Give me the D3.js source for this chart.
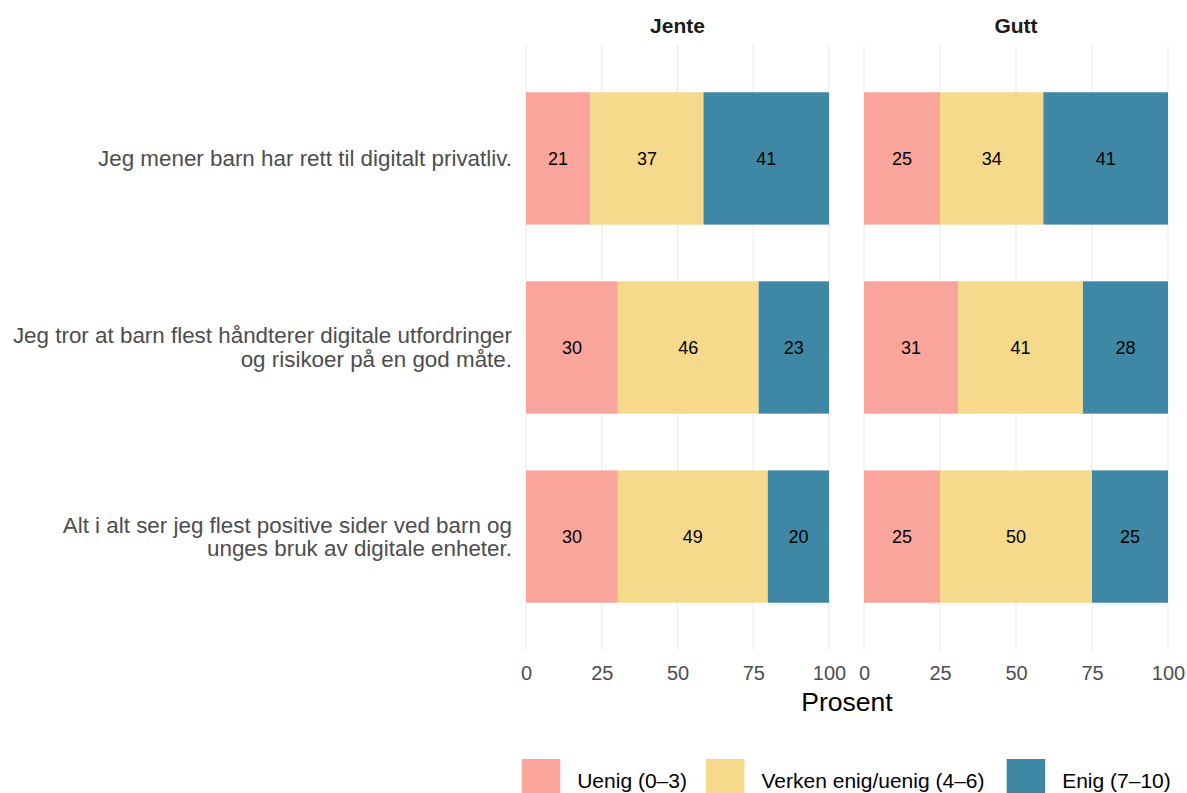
<!DOCTYPE html>
<html><head><meta charset="utf-8">
<script src="https://cdn.jsdelivr.net/npm/d3@7"></script>
<style>body{margin:0;background:#fff}svg{display:block;font-family:"Liberation Sans",Arial,sans-serif}</style>
</head><body><svg id="c" width="1187" height="793"></svg>
<script>
const statements = [
  "Jeg mener barn har rett til digitalt privatliv.",
  "Jeg tror at barn flest håndterer digitale utfordringer\nog risikoer på en god måte.",
  "Alt i alt ser jeg flest positive sider ved barn og\nunges bruk av digitale enheter."
];
const panels = ["Jente", "Gutt"];
const categories = ["Uenig (0–3)", "Verken enig/uenig (4–6)", "Enig (7–10)"];
const colors = ["#F9A59B", "#F7D98B", "#3F88A5"];
const jenteUenig = [21, 30, 30];
const jenteVerken = [37, 46, 49];
const jenteEnig = [41, 23, 20];
const guttUenig = [25, 31, 25];
const guttVerken = [34, 41, 50];
const guttEnig = [41, 28, 25];
const xTicks = [0, 25, 50, 75, 100];

const panelData = {
  Jente: statements.map((s, i) => ({s, [categories[0]]: jenteUenig[i], [categories[1]]: jenteVerken[i], [categories[2]]: jenteEnig[i]})),
  Gutt: statements.map((s, i) => ({s, [categories[0]]: guttUenig[i], [categories[1]]: guttVerken[i], [categories[2]]: guttEnig[i]}))
};

const svg = d3.select("#c");
const pTop = 45, pBottom = 650;
const panelX = {Jente: [526, 829], Gutt: [864, 1168]};

// ggplot-like discrete scale: expand 0.6 each side, bar width 0.7
const yc = d3.scalePoint().domain(statements).range([pTop, pBottom]).padding(0.6);
const barH = yc.step() * 0.7;

const stack = d3.stack().keys(categories).offset(d3.stackOffsetExpand);

panels.forEach(p => {
  const x = d3.scaleLinear().domain([0, 1]).range(panelX[p]);
  const xt = d3.scaleLinear().domain([0, 100]).range(panelX[p]);
  const g = svg.append("g");
  g.selectAll("line.grid").data(xTicks).join("line")
    .attr("x1", d => xt(d)).attr("x2", d => xt(d))
    .attr("y1", pTop).attr("y2", pBottom)
    .attr("stroke", "#ebebeb").attr("stroke-width", 1.1);
  g.append("text").attr("x", (panelX[p][0] + panelX[p][1]) / 2).attr("y", 26)
    .attr("dy", "0.35em")
    .attr("text-anchor", "middle").attr("font-size", 21).attr("font-weight", "bold")
    .attr("fill", "#1a1a1a").text(p);
  const series = stack(panelData[p]);
  series.forEach((ser, k) => {
    g.selectAll(null).data(ser).join("rect")
      .attr("x", d => x(d[0])).attr("width", d => x(d[1]) - x(d[0]))
      .attr("y", d => yc(d.data.s) - barH / 2).attr("height", barH)
      .attr("fill", colors[k]);
    g.selectAll(null).data(ser).join("text")
      .attr("x", d => (x(d[0]) + x(d[1])) / 2).attr("y", d => yc(d.data.s))
      .attr("dy", "0.35em").attr("text-anchor", "middle").attr("font-size", 18)
      .attr("fill", "#000").text(d => d.data[categories[k]]);
  });
  const ax = d3.axisBottom(xt).tickValues(xTicks).tickSize(0).tickPadding(0);
  const axg = g.append("g").attr("transform", `translate(0,${pBottom + 23})`).call(ax);
  axg.select(".domain").remove();
  axg.selectAll("text").attr("font-size", 20).attr("fill", "#4d4d4d")
    .attr("font-family", "Liberation Sans, Arial, sans-serif").attr("dy", "0.35em");
});

const yl = svg.append("g");
statements.forEach(s => {
  const lines = s.split("\n");
  const lh = 23.7;
  const y0 = yc(s) - (lines.length - 1) * lh / 2;
  lines.forEach((l, i) => {
    yl.append("text").attr("x", 512).attr("y", y0 + i * lh).attr("dy", "0.35em")
      .attr("text-anchor", "end").attr("font-size", 22.4).attr("fill", "#4d4d4d").text(l);
  });
});

svg.append("text").attr("x", (526 + 1168) / 2).attr("y", 711).attr("text-anchor", "middle")
  .attr("font-size", 26.5).attr("fill", "#000").text("Prosent");

const legX = [521.7, 706, 1006.7];
const lg = svg.append("g");
categories.forEach((c, i) => {
  lg.append("rect").attr("x", legX[i]).attr("y", 759).attr("width", 38.5).attr("height", 40).attr("fill", colors[i]);
  lg.append("text").attr("x", legX[i] + 55.5).attr("y", 788)
    .attr("font-size", 21).attr("fill", "#000").text(c);
});
</script></body></html>
